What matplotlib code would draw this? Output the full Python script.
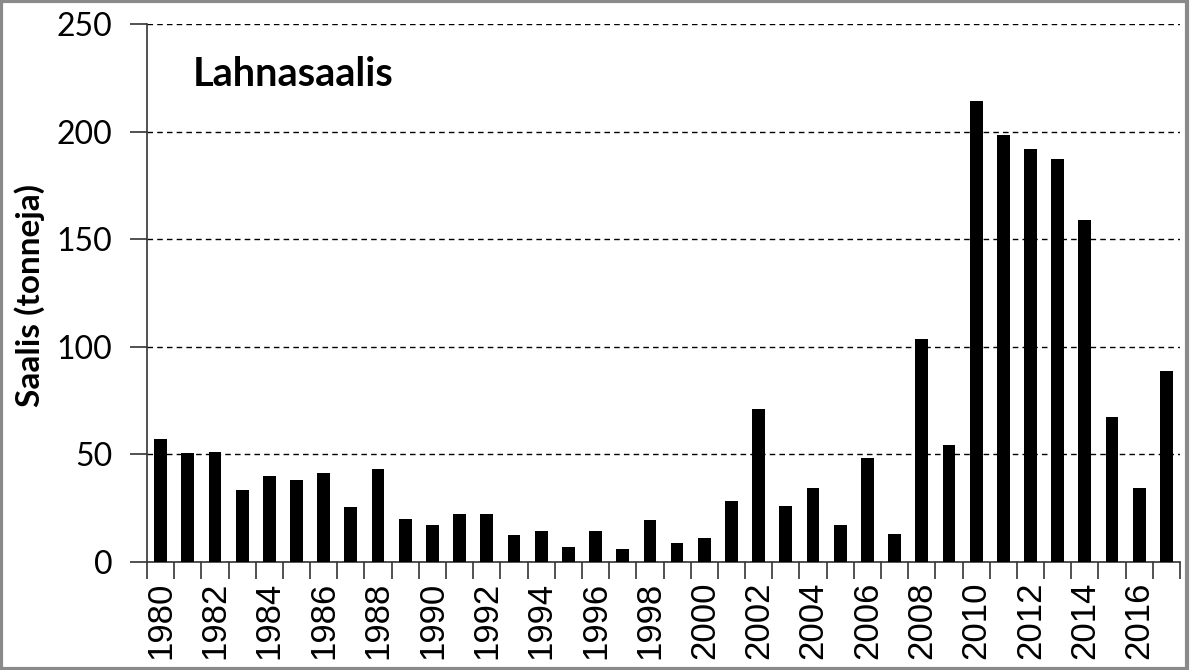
import matplotlib
matplotlib.use("Agg")
import matplotlib.pyplot as plt
from matplotlib.patches import Rectangle

years = list(range(1980, 2018))
catch = [57.2, 50.5, 51.1, 33.3, 40.0, 38.0, 41.5, 25.6, 43.4, 20.1,
         17.3, 22.1, 22.1, 12.4, 14.6, 7.1, 14.6, 6.2, 19.4, 9.0,
         11.2, 28.3, 71.0, 26.2, 34.5, 17.3, 48.3, 13.2, 103.5, 54.5,
         214.0, 198.3, 192.0, 187.2, 159.0, 67.5, 34.5, 88.9]
yticks = [0, 50, 100, 150, 200, 250]
title = "Lahnasaalis"
ylabel = "Saalis (tonneja)"

fig = plt.figure(figsize=(11.91, 6.70), dpi=100)
ax = fig.add_axes([147/1191, 1 - 562/670, (1180 - 147)/1191, (562 - 24)/670])

pos = list(range(len(years)))
ax.bar(pos, catch, width=0.47, color="black", zorder=3)

ax.set_xlim(-0.5, len(years) - 0.5)
ax.set_ylim(0, 250)
ax.set_yticks(yticks)
ax.set_yticklabels([str(v) for v in yticks], fontfamily="Lato", fontsize=23)

# boundary ticks (major) and labels (minor)
ax.set_xticks([p - 0.5 for p in pos] + [len(years) - 0.5])
ax.set_xticklabels([])
ax.set_xticks([p for p in pos if years[p] % 2 == 0], minor=True)
ax.set_xticklabels([str(years[p]) for p in pos if years[p] % 2 == 0], minor=True,
                   rotation=90, fontfamily=["Liberation Sans", "DejaVu Sans"], fontsize=25)
ax.tick_params(axis="x", which="major", length=12, width=1.2, direction="out", color="#333333")
ax.tick_params(axis="x", which="minor", length=0, pad=14)
ax.tick_params(axis="y", length=12, width=1.2, direction="out", color="#333333", pad=13)

ax.yaxis.grid(True, linestyle=(0, (4, 3)), color="black", linewidth=1.0, zorder=0)
ax.set_axisbelow(True)
for s in ["top", "right"]:
    ax.spines[s].set_visible(False)
for s in ["left", "bottom"]:
    ax.spines[s].set_color("#333333")
    ax.spines[s].set_linewidth(1.2)

fig.text(30/1191, 1 - 295/670, ylabel, rotation=90, ha="center", va="center",
         fontfamily="Lato", fontweight="bold", fontsize=24)

fig.text(193/1191, 1 - 86/670, title, ha="left", va="baseline",
         fontfamily="Lato", fontweight="bold", fontsize=28.5)

fig.patches.append(Rectangle((0.001, 0.002), 0.9955, 0.996, transform=fig.transFigure,
                             fill=False, edgecolor="#8a8a8a", linewidth=3))

fig.savefig("out.png", dpi=100, facecolor="white")
